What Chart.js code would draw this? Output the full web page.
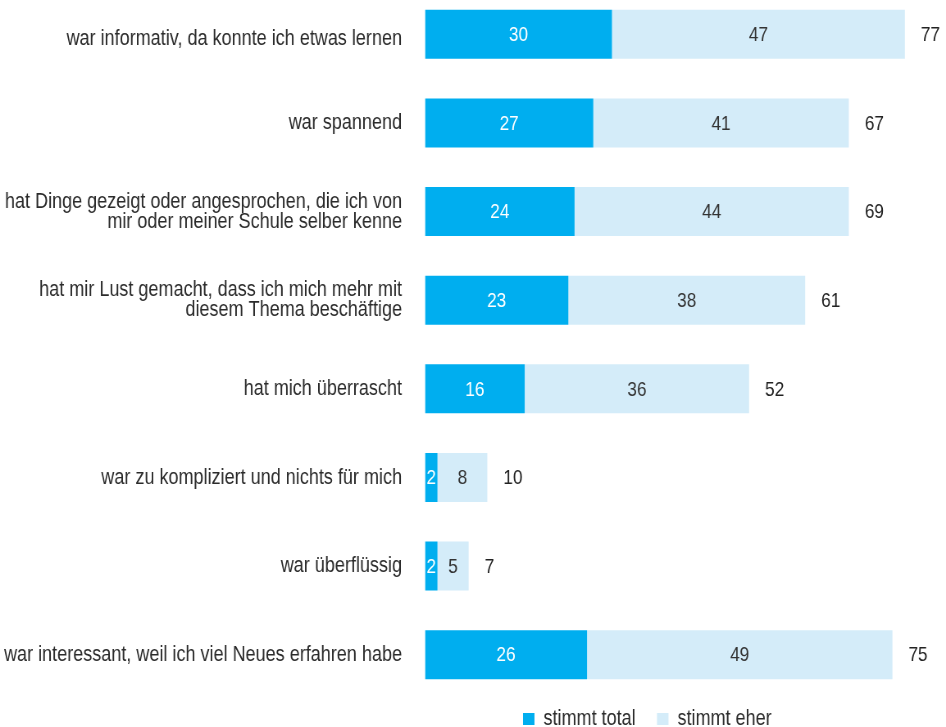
<!DOCTYPE html>
<html>
<head>
<meta charset="utf-8">
<script src="https://cdn.jsdelivr.net/npm/chart.js@4/dist/chart.umd.min.js"></script>
<style>
  html, body { margin: 0; padding: 0; background: #ffffff; overflow: hidden; }
  #wrap { position: absolute; left: 0; top: -10px; width: 946px; height: 737px; }
  #c { width: 946px; height: 737px; display: block; }
</style>
</head>
<body>
<div id="wrap"><canvas id="c" width="1154" height="737" style="width:946px;height:737px"></canvas></div>
<script>
const categories = [
  "war informativ, da konnte ich etwas lernen",
  "war spannend",
  ["hat Dinge gezeigt oder angesprochen, die ich von", "mir oder meiner Schule selber kenne"],
  ["hat mir Lust gemacht, dass ich mich mehr mit", "diesem Thema beschäftige"],
  "hat mich überrascht",
  "war zu kompliziert und nichts für mich",
  "war überflüssig",
  "war interessant, weil ich viel Neues erfahren habe"
];
const stimmtTotal = [30, 27, 24, 23, 16, 2, 2, 26];
const stimmtEher  = [47, 41, 44, 38, 36, 8, 5, 49];
const totals      = [77, 67, 69, 61, 52, 10, 7, 75];
const seriesNames = ["stimmt total", "stimmt eher"];

// The canvas is drawn 1154px wide and shown 946px wide: this narrows the
// Arial-metric text to a condensed look like the reference's typeface.
const SQ = 946 / 1154;
const FONT = "'Liberation Sans', Arial, sans-serif";
const DARK = "#00AEEF";
const LIGHT = "#D4ECF9";

const labelPlugin = {
  id: 'valueLabels',
  afterDatasetsDraw(chart) {
    const ctx = chart.ctx;
    ctx.save();
    ctx.font = "21px " + FONT;
    ctx.textBaseline = 'middle';
    chart.data.datasets.forEach((ds, di) => {
      const meta = chart.getDatasetMeta(di);
      meta.data.forEach((el, i) => {
        const cx = (el.x + el.base) / 2;
        ctx.textAlign = 'center';
        ctx.fillStyle = di === 0 ? '#ffffff' : '#333333';
        ctx.fillText(String(ds.data[i]), cx, el.y + 1);
        if (di === chart.data.datasets.length - 1) {
          ctx.textAlign = 'left';
          ctx.fillStyle = '#222222';
          ctx.fillText(String(totals[i]), el.x + 16 / SQ, el.y + 1);
        }
      });
    });
    ctx.restore();
  }
};

// the first category label sits a little lower than its bar in the reference
let labelsShifted = false;
const tickShift = {
  id: 'tickShift',
  afterUpdate() { labelsShifted = false; },
  beforeDraw(chart) {
    if (labelsShifted) return;
    const items = chart.scales.y.getLabelItems(chart.chartArea);
    if (items && items[0]) items[0].options.translation[1] += 5;
    labelsShifted = true;
  }
};

const legendShift = {
  id: 'legendShift',
  afterLayout(chart) {
    const lg = chart.legend;
    if (!lg || !lg.lineWidths) return;
    const pad = lg.options.labels.padding;
    const startX = (lg.left + pad + lg.right - lg.lineWidths[0]) / 2;
    const dx = 523 / SQ - startX;
    const itemH = 22;
    const dy = 729 - (lg.top + pad + itemH / 2);
    lg.left += dx; lg.right += dx;
    lg.top += dy;
    lg.bottom = chart.height;
  }
};

new Chart(document.getElementById('c'), {
  type: 'bar',
  data: {
    labels: categories,
    datasets: [
      { label: seriesNames[0], data: stimmtTotal, backgroundColor: DARK, borderWidth: 0 },
      { label: seriesNames[1], data: stimmtEher, backgroundColor: LIGHT, borderWidth: 0 }
    ]
  },
  options: {
    indexAxis: 'y',
    responsive: false,
    animation: false,
    devicePixelRatio: 1,
    events: [],
    layout: { padding: 0 },
    datasets: { bar: { categoryPercentage: 1, barPercentage: 0.553 } },
    scales: {
      x: {
        stacked: true, display: false, min: 0, max: 83.6
      },
      y: {
        stacked: true,
        grid: { display: false, drawTicks: false },
        border: { display: false },
        ticks: {
          padding: 23 / SQ,
          color: '#2b2b2b',
          font: { family: FONT, size: 22, lineHeight: '20px' }
        },
        afterFit(scale) {
          scale.width = 425 / SQ;
          scale.paddingTop = 0;
          scale.paddingBottom = 0;
        }
      }
    },
    plugins: {
      tooltip: { enabled: false },
      legend: {
        position: 'bottom',
        align: 'center',
        maxHeight: 28,
        labels: {
          boxWidth: 14, boxHeight: 12, padding: 26,
          color: '#2b2b2b',
          font: { family: FONT, size: 22 }
        }
      }
    }
  },
  plugins: [labelPlugin, tickShift, legendShift]
});
</script>
</body>
</html>
